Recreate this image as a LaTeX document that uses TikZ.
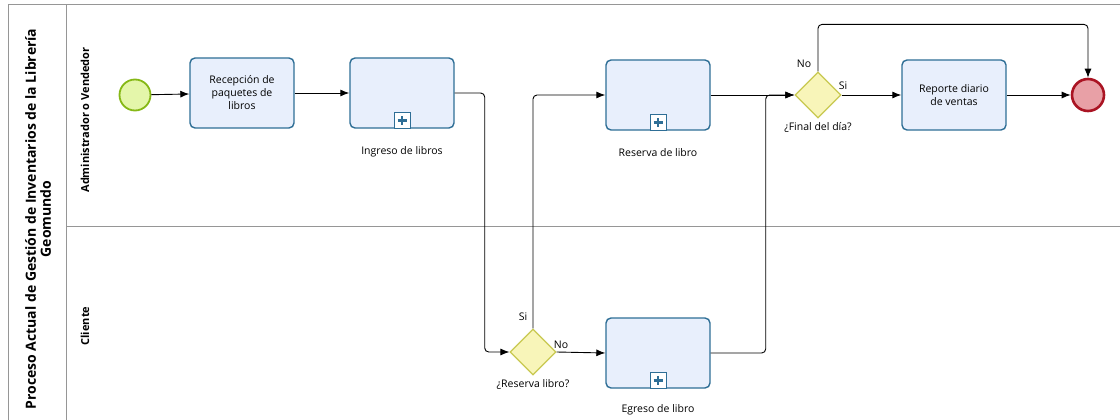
\documentclass[tikz,border=0pt]{standalone}
\usepackage{fontspec}
\setmainfont{Open Sans}
\usetikzlibrary{shapes,arrows,arrows.meta,positioning,calc}

\definecolor{taskfill}{RGB}{232,239,252}
\definecolor{taskline}{RGB}{46,110,150}
\definecolor{gwfill}{RGB}{248,245,185}
\definecolor{gwline}{RGB}{200,200,80}
\definecolor{startfill}{RGB}{228,246,170}
\definecolor{startline}{RGB}{134,184,23}
\definecolor{endfill}{RGB}{232,160,166}
\definecolor{endline}{RGB}{170,20,35}
\definecolor{poolline}{RGB}{150,150,150}

\tikzset{
    task/.style={draw=taskline, fill=taskfill, line width=1.4pt, rounded corners=5pt,
        minimum width=104pt, minimum height=70pt, align=center,
        font=\fontsize{10.5}{13}\selectfont},
    subproc/.style={task},
    plusbox/.style={draw=taskline, fill=white, line width=1pt, minimum size=16pt, inner sep=0pt,
        path picture={\draw[taskline, line width=2.8pt]
            ($(path picture bounding box.center)+(-4.5pt,0)$) -- ($(path picture bounding box.center)+(4.5pt,0)$)
            ($(path picture bounding box.center)+(0,-4.5pt)$) -- ($(path picture bounding box.center)+(0,4.5pt)$);}},
    gateway/.style={diamond, draw=gwline, fill=gwfill, line width=1.2pt, minimum size=46pt, inner sep=0pt},
    startev/.style={circle, draw=startline, fill=startfill, line width=1.8pt, minimum size=31pt, inner sep=0pt},
    endev/.style={circle, draw=endline, fill=endfill, line width=2.6pt, minimum size=32pt, inner sep=0pt},
    lbl/.style={font=\fontsize{10.5}{12}\selectfont},
    flow/.style={draw, line width=0.9pt, -{Latex[length=9pt,width=7pt]}, rounded corners=4pt},
    lane/.style={font=\bfseries\fontsize{11}{12}\selectfont, rotate=90}
}

\begin{document}
\begin{tikzpicture}[x=1pt, y=-1pt]
        \useasboundingbox (0,0) rectangle (1120,420);

        % Draw pool and lanes
        \draw[poolline, line width=1pt] (8,420) |- (1120,5);
        \draw[poolline, line width=1pt] (66,5) -- (66,420);
        \draw[poolline, line width=1pt] (66,226) -- (1120,226);

        % Pool and lane titles
        \node[rotate=90, align=center, font=\bfseries\fontsize{14}{15}\selectfont] (pooltitle) at (38,219)
            {Proceso Actual de Gestión de Inventarios de la Librería\\Geomundo};
        \node[lane] (lanevend) at (85,120) {Administrador o Vendedor};
        \node[lane] (lanecli) at (85,326) {Cliente};

        % Define points
        \coordinate (inicio) at (135,95);
        \coordinate (fin) at (1088,95);

        % Events
        \node[startev] (start) at (inicio) {};
        \node[endev] (end) at (fin) {};

        % Tasks and subprocesses
        \node[task] (recep) at (242,93) {Recepción de\\paquetes de\\libros};
        \node[subproc] (ingreso) at (402,93) {};
        \node[subproc] (reserva) at (658,95) {};
        \node[subproc] (egreso) at (658,353) {};
        \node[task] (reporte) at (954,95) {Reporte diario\\de ventas};

        % Subprocess markers and labels
        \foreach \sp in {ingreso,reserva,egreso}
            \node[plusbox, anchor=south] (\sp plus) at (\sp.south) {};
        \node[lbl, below=14pt of ingreso] (ingresolbl) {Ingreso de libros};
        \node[lbl, below=14pt of reserva] (reservalbl) {Reserva de libro};
        \node[lbl, below=12pt of egreso] (egresolbl) {Egreso de libro};

        % Gateways
        \node[gateway] (gwreserva) at (533,352) {};
        \node[gateway] (gwfinal) at (818,95) {};
        \node[lbl, below=0pt of gwreserva] (gwreservalbl) {¿Reserva libro?};
        \node[lbl, below=0pt of gwfinal] (gwfinallbl) {¿Final del día?};
        \node[lbl] (sireserva) at (523,317) {Si};
        \node[lbl] (noreserva) at (561,345) {No};
        \node[lbl] (nofinal) at (804,64) {No};
        \node[lbl] (sifinal) at (843,86) {Si};

        % Sequence flows
        \draw[flow] (start) -- (recep);
        \draw[flow] (recep) -- (ingreso);
        \draw[flow] (ingreso.east) -- ++(30,0) |- (gwreserva.west);
        \draw[flow] (gwreserva.north) |- (reserva.west);
        \draw[flow] (gwreserva.east) -- (egreso.west);
        \draw[flow] (reserva.east) -- (gwfinal.west);
        \draw[flow] (egreso.east) -- ++(55,0) |- (gwfinal.west);
        \draw[flow] (gwfinal.east) -- (reporte.west);
        \draw[flow] (gwfinal.north) -- ++(0,-47) -| (end.north);
        \draw[flow] (reporte.east) -- (end.west);
    \end{tikzpicture}
\end{document}
